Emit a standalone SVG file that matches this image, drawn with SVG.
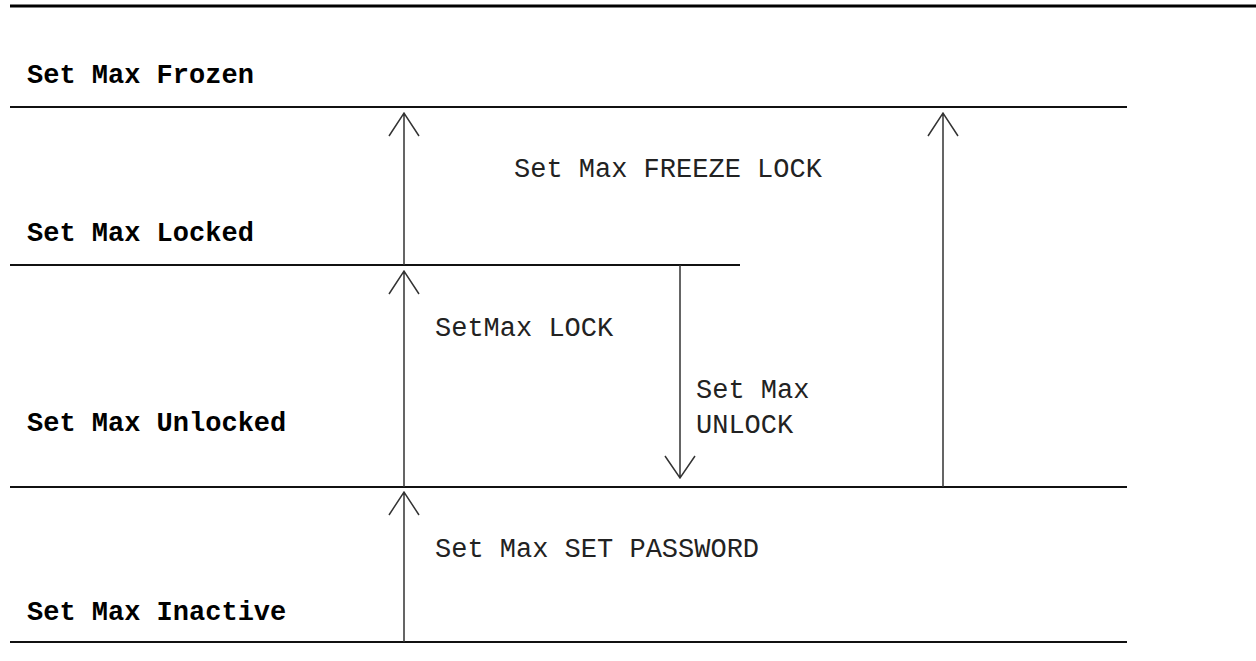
<svg xmlns="http://www.w3.org/2000/svg" width="1256" height="661" viewBox="0 0 1256 661">
<style>
.bg{fill:#fff}
.lvl{stroke:#111;stroke-width:2;fill:none}
.top{stroke:#000;stroke-width:3}
.arr{stroke:#333;stroke-width:1.5;fill:none}
.st{font-family:"Liberation Mono","Courier New",monospace;font-size:27px;font-weight:bold;fill:#000}
.lb{font-family:"Liberation Mono","Courier New",monospace;font-size:27px;fill:#222}
</style>
<rect class="bg" x="0" y="0" width="1256" height="661"/>
<line class="top" x1="10" y1="6" x2="1256" y2="6"/>
<g id="frozen">
<line class="lvl" x1="10" y1="107" x2="1127" y2="107"/>
<text class="st" x="27" y="82.5">Set Max Frozen</text>
</g>
<g id="locked">
<line class="lvl" x1="10" y1="265" x2="740" y2="265"/>
<text class="st" x="27" y="240.5">Set Max Locked</text>
</g>
<g id="unlocked">
<line class="lvl" x1="10" y1="487" x2="1127" y2="487"/>
<text class="st" x="27" y="430.5">Set Max Unlocked</text>
</g>
<g id="inactive">
<line class="lvl" x1="10" y1="642" x2="1127" y2="642"/>
<text class="st" x="27" y="619.5">Set Max Inactive</text>
</g>
<g id="connectors">
<path class="arr" d="M404 265V113M389 136L404 113L419 136"/>
<path class="arr" d="M404 487V271M389 294L404 271L419 294"/>
<path class="arr" d="M404 642V492M389 515L404 492L419 515"/>
<path class="arr" d="M680 265V478M665 456L680 478L695 456"/>
<path class="arr" stroke-width="2" d="M943 487V113M928 136L943 113L958 136"/>
<text class="lb" x="514" y="176.5">Set Max FREEZE LOCK</text>
<text class="lb" x="435" y="336">SetMax LOCK</text>
<text class="lb" x="696" y="398">Set Max</text>
<text class="lb" x="696" y="432.5">UNLOCK</text>
<text class="lb" x="435" y="556.5">Set Max SET PASSWORD</text>
</g>
</svg>
